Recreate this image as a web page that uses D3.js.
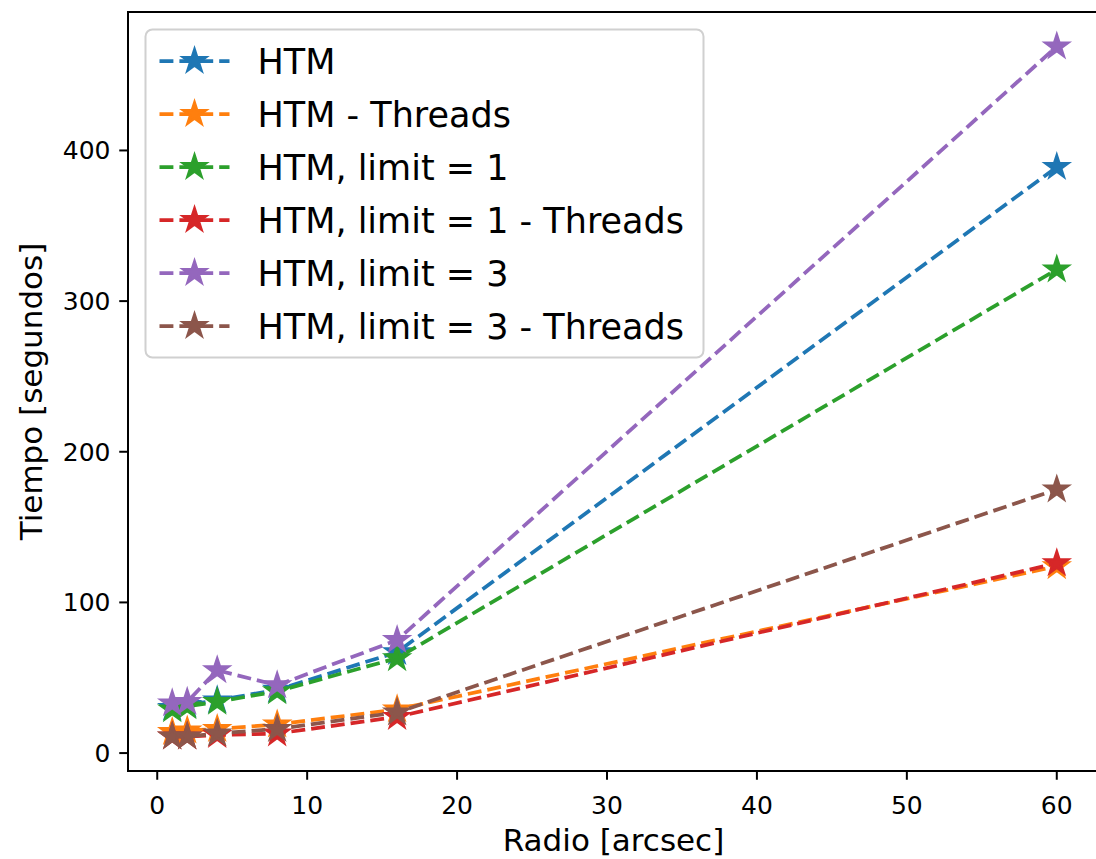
<!DOCTYPE html>
<html>
<head>
<meta charset="utf-8">
<script src="https://cdn.jsdelivr.net/npm/d3@7"></script>
<style>
  html, body { margin: 0; padding: 0; background: #fff; }
  svg { display: block; font-family: 'DejaVu Sans', sans-serif; }
</style>
</head>
<body>
<div id="chart"></div>
<script>
// Search time vs. radius for each HTM variant
const radii = [1, 2, 4, 8, 16, 60];

const htm = [30, 32, 35, 42, 67, 389];
const htmThreads = [14, 15, 16, 19, 29, 124];
const htmLimit1 = [29, 31, 34, 41, 63, 321];
const htmLimit1Threads = [11, 11, 12, 13, 24, 126];
const htmLimit3 = [33, 34, 55, 45, 75, 469];
const htmLimit3Threads = [11, 11, 13, 16, 27, 175];

const seriesLabels = [
  'HTM',
  'HTM - Threads',
  'HTM, limit = 1',
  'HTM, limit = 1 - Threads',
  'HTM, limit = 3',
  'HTM, limit = 3 - Threads',
];

const yTickValues = [0, 100, 200, 300, 400];
const xTickValues = [0, 10, 20, 30, 40, 50, 60];

const colors = ['#1f77b4', '#ff7f0e', '#2ca02c', '#d62728', '#9467bd', '#8c564b'];

const series = [htm, htmThreads, htmLimit1, htmLimit1Threads, htmLimit3, htmLimit3Threads]
  .map((vals, i) => ({
    label: seriesLabels[i],
    color: colors[i],
    points: vals.map((v, j) => ({ r: radii[j], t: v })),
  }));

const W = 1096, H = 859;
const plot = { left: 128, right: 1101, top: 12, bottom: 771 };

const svg = d3.select('#chart').append('svg')
  .attr('width', W)
  .attr('height', H);

// 5% padding on both axes, like matplotlib's default margins
const pad = (lo, hi) => [lo - (hi - lo) * 0.05, hi + (hi - lo) * 0.05];
const allT = series.flatMap((s) => s.points.map((p) => p.t));

const x = d3.scaleLinear()
  .domain(pad(d3.min(radii), d3.max(radii)))
  .range([plot.left, plot.right]);
const y = d3.scaleLinear()
  .domain(pad(d3.min(allT), d3.max(allT)))
  .range([plot.bottom, plot.top]);

const starR = 12;
const star = d3.symbol().type(d3.symbolStar).size(starR * starR / 0.8908130915292852);

svg.append('defs').append('clipPath').attr('id', 'plot-clip')
  .append('rect')
  .attr('x', plot.left).attr('y', plot.top)
  .attr('width', plot.right - plot.left).attr('height', plot.bottom - plot.top);

const lineGen = d3.line()
  .x((d) => x(d.r))
  .y((d) => y(d.t));

const body = svg.append('g').attr('clip-path', 'url(#plot-clip)');

// each series: dashed line first, then its star markers on top
series.forEach((s) => {
  const g = body.append('g');
  g.append('path')
    .datum(s.points)
    .attr('d', lineGen)
    .attr('fill', 'none')
    .attr('stroke', s.color)
    .attr('stroke-width', 3.75)
    .attr('stroke-dasharray', '13.9,6');
  g.selectAll('path.mk')
    .data(s.points)
    .enter()
    .append('path')
    .attr('class', 'mk')
    .attr('d', star)
    .attr('transform', (d) => `translate(${x(d.r)},${y(d.t)})`)
    .attr('fill', s.color)
    .attr('stroke', s.color)
    .attr('stroke-width', 2.5)
    .attr('stroke-linejoin', 'miter');
});

// spines
svg.append('rect')
  .attr('x', plot.left).attr('y', plot.top)
  .attr('width', plot.right - plot.left).attr('height', plot.bottom - plot.top)
  .attr('fill', 'none')
  .attr('stroke', '#000')
  .attr('stroke-width', 2);

// x axis ticks + labels
const xAxis = svg.append('g');
xAxis.selectAll('line')
  .data(xTickValues)
  .enter()
  .append('line')
  .attr('x1', (d) => x(d)).attr('x2', (d) => x(d))
  .attr('y1', plot.bottom).attr('y2', plot.bottom + 8.75)
  .attr('stroke', '#000').attr('stroke-width', 2);
xAxis.selectAll('text')
  .data(xTickValues)
  .enter()
  .append('text')
  .attr('x', (d) => x(d))
  .attr('y', 814)
  .attr('text-anchor', 'middle')
  .attr('font-size', 25)
  .attr('fill', '#000')
  .text((d) => d);

// y axis ticks + labels
const yAxis = svg.append('g');
yAxis.selectAll('line')
  .data(yTickValues)
  .enter()
  .append('line')
  .attr('x1', plot.left - 8.75).attr('x2', plot.left)
  .attr('y1', (d) => y(d)).attr('y2', (d) => y(d))
  .attr('stroke', '#000').attr('stroke-width', 2);
yAxis.selectAll('text')
  .data(yTickValues)
  .enter()
  .append('text')
  .attr('x', plot.left - 17.5)
  .attr('y', (d) => y(d) + 9)
  .attr('text-anchor', 'end')
  .attr('font-size', 25)
  .attr('fill', '#000')
  .text((d) => d);

svg.append('text')
  .attr('x', (plot.left + 1101) / 2 - 1)
  .attr('y', 851)
  .attr('text-anchor', 'middle')
  .attr('font-size', 31)
  .attr('fill', '#000')
  .text('Radio [arcsec]');

svg.append('text')
  .attr('transform', `translate(42,${(plot.top + plot.bottom) / 2}) rotate(-90)`)
  .attr('text-anchor', 'middle')
  .attr('font-size', 31)
  .attr('fill', '#000')
  .text('Tiempo [segundos]');

// Legend, upper left
const legend = svg.append('g').attr('transform', 'translate(145.5,29.5)');
legend.append('rect')
  .attr('width', 558).attr('height', 328)
  .attr('rx', 7).attr('ry', 7)
  .attr('fill', 'rgba(255,255,255,0.8)')
  .attr('stroke', '#d0d0d0')
  .attr('stroke-width', 2);

series.forEach((s, i) => {
  const cy = 31.5 + i * 53;
  const row = legend.append('g');
  row.append('line')
    .attr('x1', 14).attr('x2', 84)
    .attr('y1', cy).attr('y2', cy)
    .attr('stroke', s.color)
    .attr('stroke-width', 3.75)
    .attr('stroke-dasharray', '13.9,6');
  row.append('path')
    .attr('d', star)
    .attr('transform', `translate(49,${cy})`)
    .attr('fill', s.color)
    .attr('stroke', s.color)
    .attr('stroke-width', 2.5);
  row.append('text')
    .attr('x', 112)
    .attr('y', cy + 12.8)
    .attr('font-size', 35)
    .attr('fill', '#000')
    .text(s.label);
});
</script>
</body>
</html>
